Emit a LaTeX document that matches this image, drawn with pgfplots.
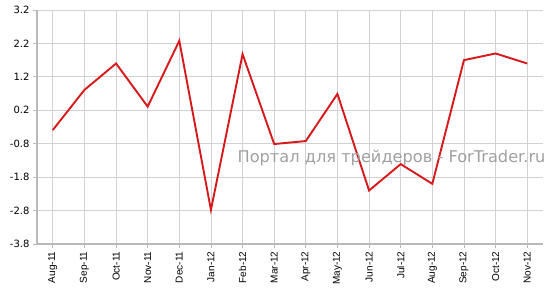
\documentclass[border=0pt]{standalone}
\usepackage{pgfplots}
\pgfplotsset{compat=1.18}
\usepackage{fontspec}
\setmainfont{DejaVu Sans}
\newfontfamily\arialf{Liberation Sans}
\definecolor{gridc}{RGB}{210,210,210}
\definecolor{axc}{RGB}{185,185,185}
\definecolor{linec}{RGB}{215,25,28}
\definecolor{wm}{RGB}{160,160,160}
\begin{document}
\begin{tikzpicture}
\useasboundingbox (-37pt,-50pt) rectangle (517pt,244pt);
\begin{axis}[
  at={(0,0)}, anchor=south west,
  scale only axis, width=506pt, height=234pt,
  xmin=-0.5, xmax=15.5, ymin=-3.8, ymax=3.2,
  ytick={-3.8,-2.8,-1.8,-0.8,0.2,1.2,2.2,3.2},
  /pgf/number format/fixed,
  /pgf/number format/fixed zerofill,
  /pgf/number format/precision=1,
  /pgf/number format/assume math mode=true,
  xtick={0,...,15},
  xticklabels={Aug-11,Sep-11,Oct-11,Nov-11,Dec-11,Jan-12,Feb-12,Mar-12,Apr-12,May-12,Jun-12,Jul-12,Aug-12,Sep-12,Oct-12,Nov-12},
  xticklabel style={rotate=90, anchor=east, font=\arialf\fontsize{10}{11}\selectfont},
  yticklabel style={font=\fontsize{10}{11}\selectfont},
  grid=major, grid style={gridc, line width=0.8pt},
  axis x line*=bottom, axis y line*=left,
  axis line style={axc, line width=1.6pt, -},
  tick style={axc, line width=0.8pt},
  tick align=outside, major tick length=4pt,
  clip=false,
]
\addplot[linec, line width=1.9pt] coordinates {
(0,-0.39) (1,0.81) (2,1.60) (3,0.31) (4,2.28) (5,-2.78) (6,1.88) (7,-0.81)
(8,-0.72) (9,0.69) (10,-2.20) (11,-1.41) (12,-2.00) (13,1.70) (14,1.90) (15,1.60)
};
\node[wm, anchor=east, xshift=6pt, font=\fontsize{16.2}{18}\selectfont] at (axis cs:15.5,-1.23) {Портал для трейдеров - ForTrader.ru};
\end{axis}
\end{tikzpicture}
\end{document}
